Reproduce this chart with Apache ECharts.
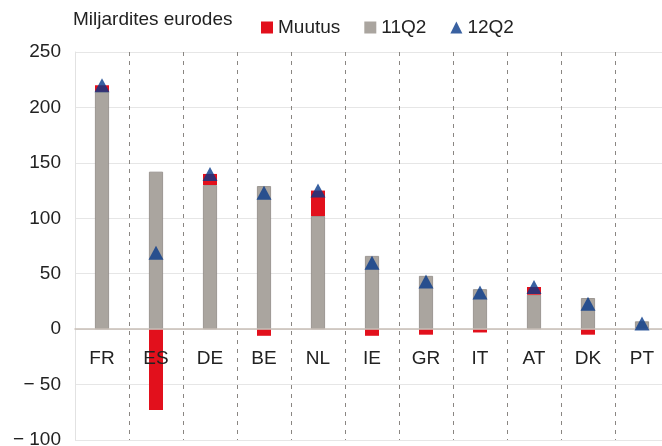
<!DOCTYPE html>
<html>
<head>
<meta charset="utf-8">
<script src="https://cdn.jsdelivr.net/npm/echarts@6/dist/echarts.min.js"></script>
<style>
html,body{margin:0;padding:0;background:#fff;}
#c{width:662px;height:446px;}
</style>
</head>
<body>
<div id="c"></div>
<script>
const categories = ['FR','ES','DE','BE','NL','IE','GR','IT','AT','DK','PT'];
const q11 = [214, 142, 130, 129, 102, 66, 48, 36, 31, 28, 7];
const muutus = [6, -73, 10, -6, 23, -6, -5, -3, 7, -5, 0];
const q12 = [220, 69, 140, 123, 125, 60, 43, 33, 38, 23, 5];
const yTicks = {min: -100, max: 250, interval: 50};

const FONT = '"Liberation Sans", Arial, sans-serif';
const GRID_H = 388;
// place the category axis (line + labels) at value 0
const zeroOffset = -GRID_H * (0 - yTicks.min) / (yTicks.max - yTicks.min);

const chart = echarts.init(document.getElementById('c'), null, {renderer: 'canvas'});
chart.setOption({
  animation: false,
  backgroundColor: '#fff',
  textStyle: {fontFamily: FONT},
  title: {
    text: 'Miljardites eurodes',
    left: 68, top: 5,
    textStyle: {fontFamily: FONT, fontSize: 19, fontWeight: 'normal', color: '#222'}
  },
  legend: {
    left: 256, top: 13,
    itemGap: 24,
    itemWidth: 12, itemHeight: 12,
    textStyle: {fontFamily: FONT, fontSize: 19, color: '#222'},
    data: [
      {name: 'Muutus', icon: 'rect'},
      {name: '11Q2', icon: 'rect', itemStyle: {borderWidth: 0}},
      {name: '12Q2', icon: 'triangle'}
    ]
  },
  grid: {left: 75, top: 52, width: 594, height: GRID_H, containLabel: false, outerBoundsMode: 'none'},
  xAxis: {
    type: 'category',
    data: categories,
    boundaryGap: true,
    position: 'bottom',
    offset: zeroOffset,
    axisLine: {onZero: false, lineStyle: {color: '#c7bfb7', width: 1.5}},
    axisTick: {show: false},
    axisLabel: {fontFamily: FONT, fontSize: 19, color: '#222', margin: 20},
    splitLine: {show: true, interval: (i) => i !== 0, lineStyle: {color: '#8a8682', type: [4, 5], width: 1}},
    z: 3
  },
  yAxis: {
    type: 'value',
    min: yTicks.min, max: yTicks.max, interval: yTicks.interval,
    axisLine: {show: true, lineStyle: {color: '#e2e2e2'}},
    axisTick: {show: false},
    axisLabel: {
      fontFamily: FONT, fontSize: 19, color: '#222', margin: 14,
      formatter: v => v < 0 ? '\u2212 ' + Math.abs(v) : String(v)
    },
    splitLine: {show: true, lineStyle: {color: '#e6e6e6'}}
  },
  series: [
    {
      name: '11Q2', type: 'bar', stack: 'a', data: q11, barWidth: 14,
      itemStyle: {color: '#aaa59f', borderColor: '#8e8984', borderWidth: 0.8}
    },
    {
      name: 'Muutus', type: 'bar', stack: 'a', data: muutus, barWidth: 14,
      itemStyle: {color: '#e2101c'}
    },
    {
      name: '12Q2', type: 'scatter', data: q12,
      symbol: 'triangle', symbolSize: [15, 14], z: 5,
      itemStyle: {color: '#083a8a'}
    }
  ]
});
</script>
</body>
</html>
